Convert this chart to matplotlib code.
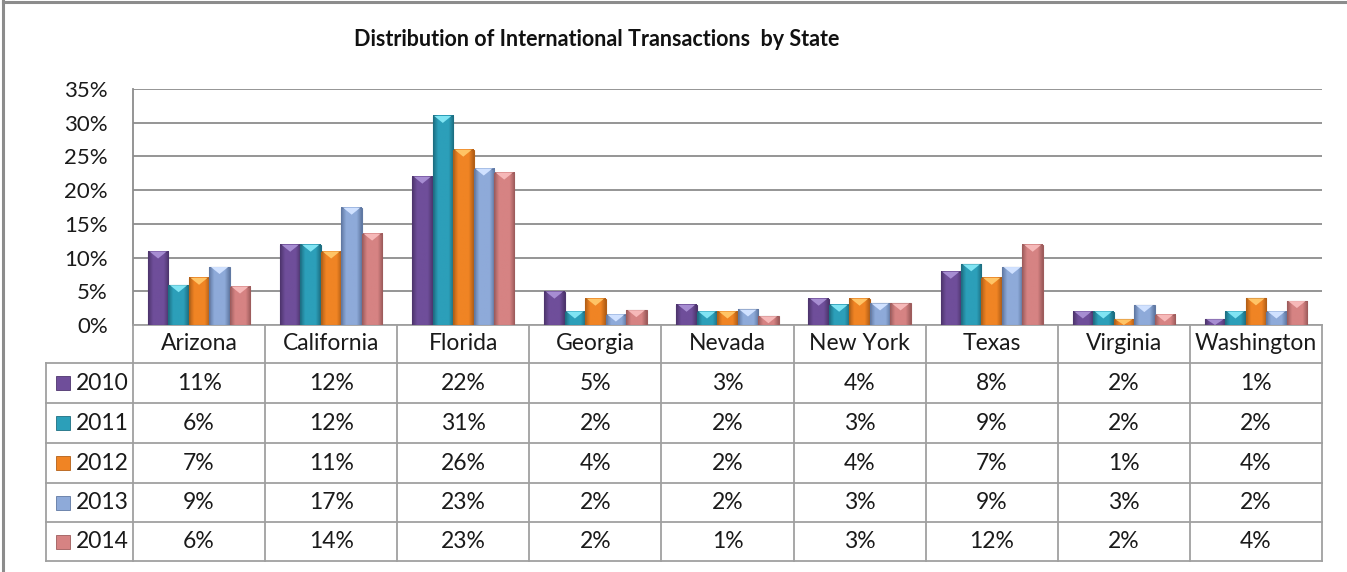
import matplotlib.pyplot as plt
import matplotlib.transforms as mtransforms
from matplotlib.lines import Line2D
from matplotlib.patches import Polygon
from matplotlib.colors import LinearSegmentedColormap
import numpy as np

plt.rcParams['font.family'] = ['Lato', 'DejaVu Sans']

states = ['Arizona', 'California', 'Florida', 'Georgia', 'Nevada',
          'New York', 'Texas', 'Virginia', 'Washington']
years = ['2010', '2011', '2012', '2013', '2014']
# share of international transactions, percent
y2010 = [10.9, 11.9, 22.0, 4.95, 3.0, 3.9, 7.9, 2.0, 0.85]
y2011 = [5.9, 11.9, 31.0, 2.0, 2.0, 3.0, 9.0, 2.0, 2.0]
y2012 = [7.0, 10.9, 26.0, 3.9, 2.0, 3.9, 7.0, 0.85, 3.95]
y2013 = [8.6, 17.4, 23.2, 1.55, 2.3, 3.2, 8.6, 2.95, 2.0]
y2014 = [5.7, 13.55, 22.6, 2.2, 1.3, 3.2, 11.9, 1.55, 3.55]
series = [y2010, y2011, y2012, y2013, y2014]

face = ['#6f4e9a', '#2c9fb9', '#f08424', '#8eaad9', '#d68383']
edge = ['#4e356e', '#1d6f82', '#b35f16', '#6079a3', '#9e5c5c']
tip = ['#a78dd2', '#80e4f3', '#ffc466', '#d0e1ff', '#f6b8b8']

W, H = 1347, 572
fig = plt.figure(figsize=(W / 100, H / 100), dpi=100)
fig.patch.set_facecolor('white')

# plot area in pixels
px_l, px_r, px_t, px_b = 133, 1322, 89, 325
ax = fig.add_axes([px_l / W, (H - px_b) / H, (px_r - px_l) / W, (px_b - px_t) / H])

n = len(states)
bw = 0.155
x = np.arange(n)
grad = np.abs(np.linspace(-1, 1, 40))[None, :]
th = 7 * 35 / (px_b - px_t)  # top bevel height, ~7 px
for k, vals in enumerate(series):
    xs = x + (k - 2) * bw
    cmap = LinearSegmentedColormap.from_list('b%d' % k, [face[k], face[k], edge[k]])
    for xc, v in zip(xs, vals):
        ax.imshow(grad, extent=[xc - bw / 2, xc + bw / 2, 0, v], cmap=cmap,
                  aspect='auto', zorder=3, interpolation='bilinear')
    ax.bar(xs, vals, width=bw, facecolor='none', edgecolor=edge[k], linewidth=0.8, zorder=4)
    for xc, v in zip(xs, vals):
        h = min(v, th)
        tri = Polygon([[xc - bw / 2 + 0.012, v], [xc + bw / 2 - 0.012, v], [xc, v - h]],
                      closed=True, facecolor=tip[k], edgecolor='none', zorder=5)
        ax.add_patch(tri)

ax.set_xlim(-0.5, n - 0.5)
ax.set_ylim(0, 35)
ax.set_yticks(np.arange(0, 36, 5))
ax.set_yticklabels([f'{t}%' for t in range(0, 36, 5)])
ax.set_xticks([])
ax.tick_params(axis='y', length=0, pad=18, labelsize=16, labelcolor='#1a1a1a')
ax.yaxis.grid(True, color='#8c8c8c', linewidth=1.3, zorder=0)
ax.set_axisbelow(True)
for s in ['top', 'right']:
    ax.spines[s].set_visible(False)
ax.spines['left'].set_color('#8c8c8c')
ax.spines['left'].set_linewidth(1.3)
ax.spines['bottom'].set_color('#a0a0a0')
ax.spines['bottom'].set_linewidth(1.3)

# data table under the chart
trans = mtransforms.blended_transform_factory(ax.transData, ax.transAxes)
cw = (px_r - px_l) / n


def fy(py):
    return (px_b - py) / (px_b - px_t)


def fx(px):
    return -0.5 + (px - px_l) / cw


rows = [325, 363, 403, 443, 483, 522, 561]
xl = fx(46)
lc = '#a0a0a0'
for py in rows[1:]:
    ax.add_line(Line2D([xl, n - 0.5], [fy(py)] * 2, transform=trans, color=lc,
                       lw=1.3, clip_on=False))
ax.add_line(Line2D([xl, xl], [fy(rows[1]), fy(rows[-1])], transform=trans, color=lc,
                   lw=1.3, clip_on=False))
for xe in np.arange(-0.5, n, 1.0):
    ax.add_line(Line2D([xe, xe], [fy(rows[0]), fy(rows[-1])], transform=trans, color=lc,
                       lw=1.3, clip_on=False))

for j, st in enumerate(states):
    ax.text(j, fy((rows[0] + rows[1]) / 2), st, transform=trans, ha='center',
            va='center', fontsize=16.5, color='#1a1a1a')

for k, vals in enumerate(series):
    yc = fy((rows[k + 1] + rows[k + 2]) / 2)
    for j, v in enumerate(vals):
        ax.text(j, yc, f'{round(v)}%', transform=trans, ha='center', va='center',
                fontsize=16.5, color='#1a1a1a')
    ax.plot([fx(62.5)], [yc], marker='s', markersize=10.5, color=face[k],
            markeredgecolor=edge[k], markeredgewidth=0.6, transform=trans, clip_on=False)
    ax.text(fx(76), yc, years[k], transform=trans, ha='left', va='center',
            fontsize=16.5, color='#1a1a1a')

fig.text(597 / W, 1 - 40 / H, 'Distribution of International Transactions  by State',
         ha='center', va='center', fontsize=15.5, fontweight='bold', color='#111111')

# outer chart frame (top and left edges visible)
fig.add_artist(Line2D([3 / W, 1], [1 - 1.5 / H] * 2, color='#8c8c8c', lw=2.2))
fig.add_artist(Line2D([3 / W, 3 / W], [0, 1], color='#8c8c8c', lw=2.2))

fig.savefig('out.png', dpi=100, facecolor='white')
